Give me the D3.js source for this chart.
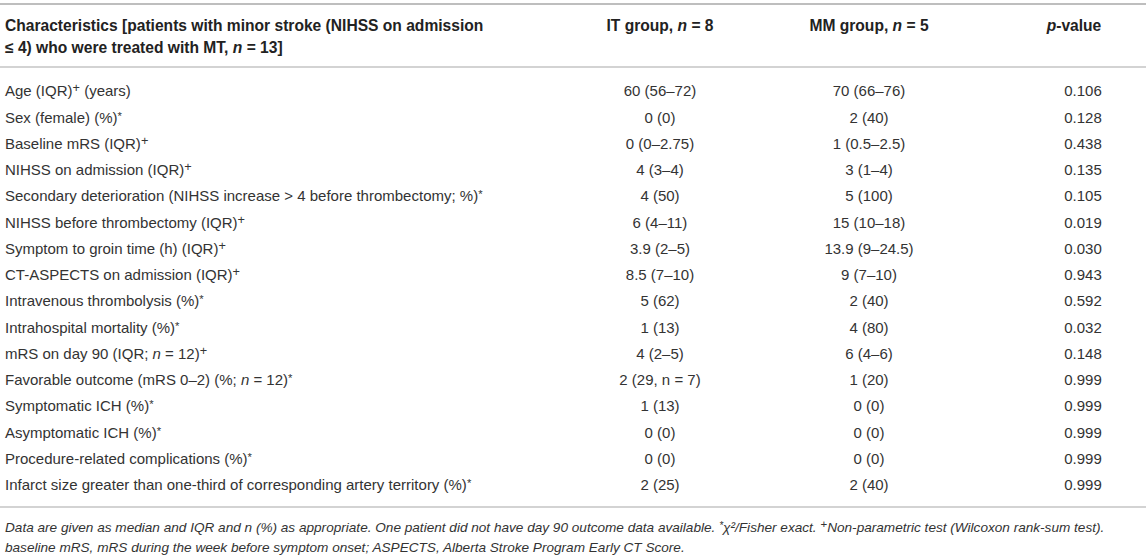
<!DOCTYPE html>
<html>
<head>
<meta charset="utf-8">
<script src="https://cdn.jsdelivr.net/npm/d3@7"></script>
<style>
  html, body { margin: 0; padding: 0; background: #fff; }
  svg { display: block; }
</style>
</head>
<body>
<div id="table"></div>
<script>
// ---- table content ----
// markup: ^+ superscript plus, ^* superscript asterisk, _n_ italic n
var characteristics = [
  'Age (IQR)^+ (years)',
  'Sex (female) (%)^*',
  'Baseline mRS (IQR)^+',
  'NIHSS on admission (IQR)^+',
  'Secondary deterioration (NIHSS increase > 4 before thrombectomy; %)^*',
  'NIHSS before thrombectomy (IQR)^+',
  'Symptom to groin time (h) (IQR)^+',
  'CT-ASPECTS on admission (IQR)^+',
  'Intravenous thrombolysis (%)^*',
  'Intrahospital mortality (%)^*',
  'mRS on day 90 (IQR; _n_ = 12)^+',
  'Favorable outcome (mRS 0–2) (%; _n_ = 12)^*',
  'Symptomatic ICH (%)^*',
  'Asymptomatic ICH (%)^*',
  'Procedure-related complications (%)^*',
  'Infarct size greater than one-third of corresponding artery territory (%)^*'
];
var itGroup = ['60 (56–72)', '0 (0)', '0 (0–2.75)', '4 (3–4)', '4 (50)', '6 (4–11)',
  '3.9 (2–5)', '8.5 (7–10)', '5 (62)', '1 (13)', '4 (2–5)', '2 (29, n = 7)',
  '1 (13)', '0 (0)', '0 (0)', '2 (25)'];
var mmGroup = ['70 (66–76)', '2 (40)', '1 (0.5–2.5)', '3 (1–4)', '5 (100)', '15 (10–18)',
  '13.9 (9–24.5)', '9 (7–10)', '2 (40)', '4 (80)', '6 (4–6)', '1 (20)',
  '0 (0)', '0 (0)', '0 (0)', '2 (40)'];
var pValues = ['0.106', '0.128', '0.438', '0.135', '0.105', '0.019', '0.030', '0.943',
  '0.592', '0.032', '0.148', '0.999', '0.999', '0.999', '0.999', '0.999'];

var headerLines = [
  'Characteristics [patients with minor stroke (NIHSS on admission',
  '≤ 4) who were treated with MT, _n_ = 13]'
];
var columnHeads = ['IT group, _n_ = 8', 'MM group, _n_ = 5', '_p_-value'];
var footnotes = [
  '/Data are given as median and IQR and n (%) as appropriate. One patient did not have day 90 outcome data available. ^*χ²/Fisher exact. ^+Non-parametric test (Wilcoxon rank-sum test).',
  '/baseline mRS, mRS during the week before symptom onset; ASPECTS, Alberta Stroke Program Early CT Score.'
];

// ---- layout ----
var W = 1146, H = 558;
var FONT = '"Liberation Sans", Arial, Helvetica, sans-serif';
var INK = '#333', RULE = '#a8a8a8';

var svg = d3.select('#table').append('svg')
  .attr('width', W).attr('height', H)
  .attr('font-family', FONT);

var rowY = d3.scalePoint()
  .domain(d3.range(characteristics.length))
  .range([91, 485]);

var colX = d3.scaleOrdinal()
  .domain(['it', 'mm', 'p'])
  .range([660, 869, 1083]);
var headX = [660, 869, 1074];

// write a string with the small markup into a text element
function rich(sel, str) {
  var re = /(\^\+|\^\*|_n_|_p_)/g;
  var parts = str.split(re);
  var italicAll = false;
  if (parts[0].charAt(0) === '/') { italicAll = true; parts[0] = parts[0].slice(1); }
  parts.forEach(function (p) {
    if (!p) return;
    var t = sel.append('tspan');
    if (italicAll) t.attr('font-style', 'italic');
    if (p === '^+') {
      t.attr('baseline-shift', '32%').attr('font-size', '0.85em').attr('font-style', 'normal').text('+');
    } else if (p === '^*') {
      t.attr('baseline-shift', '30%').attr('font-size', '0.75em').text('*');
    } else if (p === '_n_' || p === '_p_') {
      t.attr('font-style', 'italic').text(p.charAt(1));
    } else {
      t.text(p);
    }
  });
}

function rule(y, w) {
  svg.append('line')
    .attr('x1', 0).attr('x2', W).attr('y1', y).attr('y2', y)
    .attr('stroke', RULE).attr('stroke-width', w);
}

rule(4, 1.5);
rule(67, 1.2);
rule(507, 1.2);

/* header */
headerLines.forEach(function (line, i) {
  svg.append('text')
    .attr('x', 5).attr('y', 31 + i * 22)
    .attr('font-size', 15.6).attr('font-weight', 'bold').attr('fill', '#222')
    .call(rich, line);
});
columnHeads.forEach(function (h, i) {
  svg.append('text')
    .attr('x', headX[i]).attr('y', 31)
    .attr('text-anchor', 'middle')
    .attr('font-size', 15.6).attr('font-weight', 'bold').attr('fill', '#222')
    .call(rich, h);
});

/* body rows */
var rows = svg.selectAll('g.row')
  .data(characteristics.map(function (c, i) {
    return { label: c, it: itGroup[i], mm: mmGroup[i], p: pValues[i], i: i };
  }))
  .join('g').attr('class', 'row')
  .attr('transform', function (d) { return 'translate(0,' + rowY(d.i) + ')'; })
  .attr('font-size', 15).attr('fill', INK);

rows.append('text').attr('x', 5).attr('dy', '0.35em')
  .each(function (d) { rich(d3.select(this), d.label); });
['it', 'mm', 'p'].forEach(function (k) {
  rows.append('text').attr('x', colX(k)).attr('dy', '0.35em')
    .attr('text-anchor', 'middle')
    .text(function (d) { return d[k]; });
});

/* footnotes */
footnotes.forEach(function (f, i) {
  svg.append('text')
    .attr('x', 5).attr('y', 532 + i * 20)
    .attr('font-size', 13.6).attr('fill', INK)
    .call(rich, f);
});
</script>
</body>
</html>
